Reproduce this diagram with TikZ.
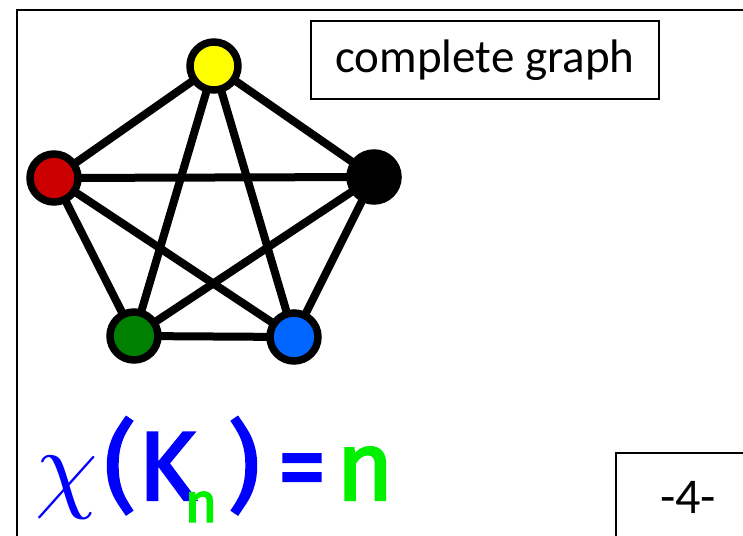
\documentclass[tikz,border=0pt]{standalone}
\usepackage{fontspec}
\setmainfont{Carlito}
\newfontfamily\formulafont[FakeBold=2.5]{Fira Sans}
\usepackage{tikz}
\usetikzlibrary{positioning,backgrounds}
\definecolor{VtxYellow}{HTML}{FFFF00}
\definecolor{VtxRed}{HTML}{CC0000}
\definecolor{VtxGreen}{HTML}{008000}
\definecolor{VtxBlue}{HTML}{0066FF}
\definecolor{FormBlue}{HTML}{0000FF}
\definecolor{FormGreen}{HTML}{00F000}

\begin{document}
\begin{tikzpicture}[
    x=1pt, y=-1pt,
    vertex/.style={
      circle,
      draw=black,
      line width=7.5pt,
      minimum size=48pt,
      inner sep=0pt
    },
    edge/.style={
      line width=8pt,
      color=black
    },
    labelbox/.style={
      draw=black,
      line width=1.3pt,
      font=\fontsize{47}{50}\selectfont
    },
    formula/.style={
      anchor=base,
      inner sep=0pt,
      font=\formulafont\fontsize{98}{98}\selectfont
    }
  ]

  \useasboundingbox (0,0) rectangle (743,535);
  \clip (0,0) rectangle (743,535);

  % Frame
  \draw[line width=2pt] (17,545) -- (17,10) -- (760,10);

  % Vertices
  \node[vertex,fill=VtxYellow] (vy) at (214,66) {};
  \node[vertex,fill=VtxRed]    (vr) at (54,178) {};
  \node[vertex,fill=black]     (vk) at (374,177) {};
  \node[vertex,fill=VtxGreen]  (vg) at (134,336) {};
  \node[vertex,fill=VtxBlue]   (vb) at (294,337) {};

  % Edges
  \begin{pgfonlayer}{background}
    \foreach \a/\b in {vy/vr,vy/vk,vy/vg,vy/vb,vr/vk,vr/vg,vr/vb,vk/vg,vk/vb,vg/vb}
      \draw[edge] (\a.center) -- (\b.center);
  \end{pgfonlayer}

  % Labels
  \node[labelbox,minimum width=348pt,minimum height=78pt] (title) at (485,60)
    {complete graph};
  \node[labelbox,line width=1.5pt,font=\fontsize{50}{52}\selectfont,
        minimum width=144pt,minimum height=88pt] (page) at (688,497) {-4-};

  % Chromatic number
  \node[anchor=base,inner sep=0pt,text=FormBlue] (chi) at (67,499)
    {\scalebox{10}{$\chi$}};
  \node[formula,text=FormBlue]  (lpar) at (120,500) {(};
  \node[formula,text=FormBlue]  (kay)  at (167,500) {K};
  \node[formula,text=FormGreen,font=\formulafont\fontsize{56}{56}\selectfont]
    (sub) at (201,522) {n};
  \node[formula,text=FormBlue]  (rpar) at (244,500) {)};
  \node[formula,text=FormBlue]  (eq)   at (302,500) {=};
  \node[formula,text=FormGreen] (en)   at (365,500) {n};

\end{tikzpicture}
\end{document}
